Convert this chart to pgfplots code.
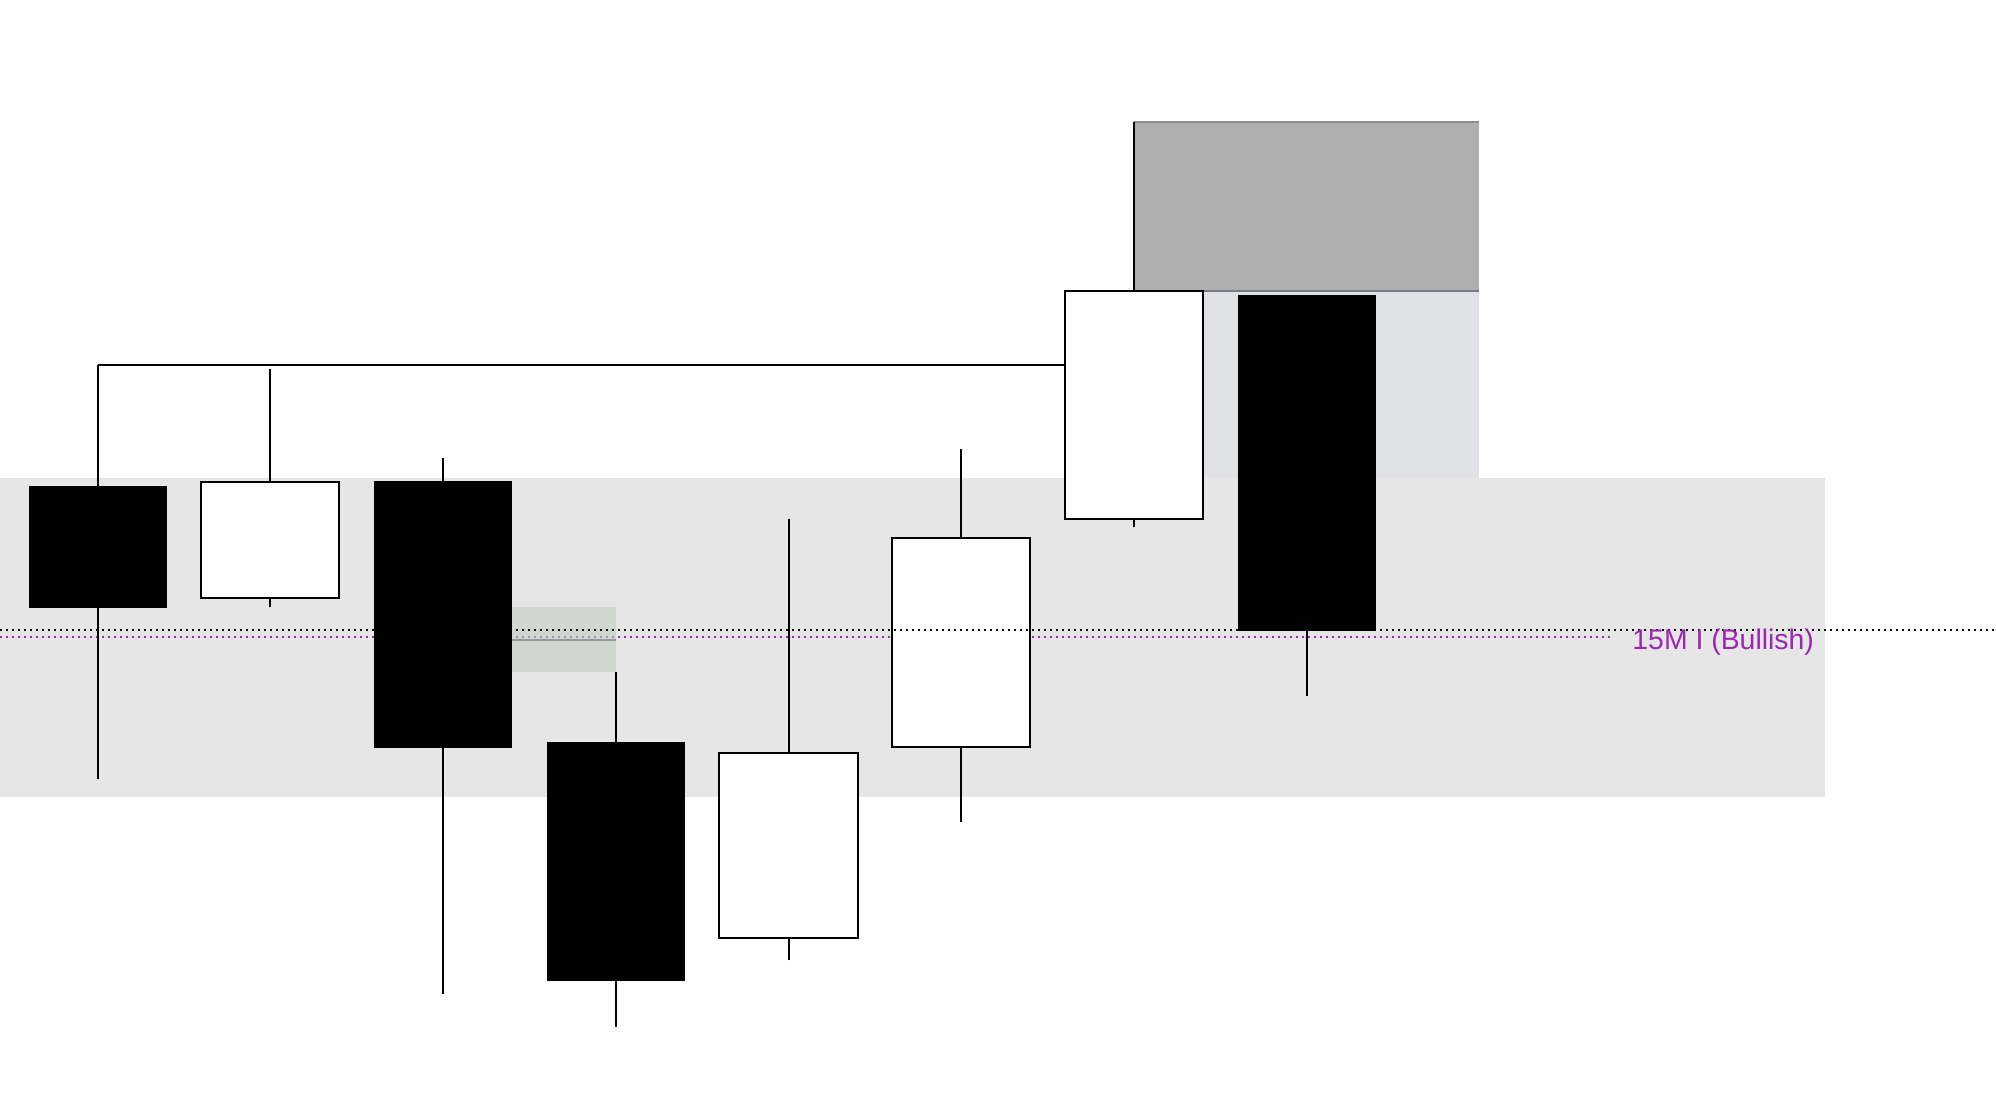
\documentclass[border=0pt]{standalone}
\usepackage{fontspec}
\setmainfont{Liberation Sans}
\usepackage{pgfplots}
\pgfplotsset{compat=1.18}
\definecolor{zone}{RGB}{230,230,230}
\definecolor{lightbox}{RGB}{225,226,229}
\definecolor{darkbox}{RGB}{175,175,175}
\definecolor{darkedge}{RGB}{140,140,140}
\definecolor{bluegray}{RGB}{120,123,134}
\definecolor{fvg}{RGB}{193,202,193}
\definecolor{fvgline}{RGB}{150,154,150}
\definecolor{mypurple}{RGB}{156,39,176}
\begin{document}
\begin{tikzpicture}
\begin{axis}[
  width=499pt, height=276.5pt, scale only axis,
  hide axis, clip=true,
  xmin=-0.5657, xmax=10.992, ymin=0, ymax=1106,
]
% big gray zone
\addplot[fill=zone, draw=none] coordinates {(-0.6,309.3) (10.0,309.3) (10.0,628) (-0.6,628)} -- cycle;
% light box and dark box
\addplot[fill=lightbox, draw=none] coordinates {(6.0,628) (8.0,628) (8.0,815.3) (6.0,815.3)} -- cycle;
\addplot[fill=darkbox, draw=none] coordinates {(6.0,815.3) (8.0,815.3) (8.0,984.3) (6.0,984.3)} -- cycle;
\addplot[darkedge, line width=0.4pt] coordinates {(6.0,984.3) (8.0,984.3)};
\addplot[bluegray, line width=0.45pt] coordinates {(6.0,815.3) (8.0,815.3)};
% previous high bracket
\addplot[black, line width=0.5pt] coordinates {(0,741) (5.6,741)};
% purple dotted level
\addplot[mypurple, line width=0.5pt, dash pattern=on 0.5pt off 1pt] coordinates {(-0.6,469) (8.775,469)};
% candles: wick (low-high), then body
% C0 bear O=620 C=498.3 H=741 L=327
\addplot[black, line width=0.5pt] coordinates {(0,327) (0,741)};
\addplot[fill=black, draw=none] coordinates {(-0.4,620) (0.4,620) (0.4,498.3) (-0.4,498.3)} -- cycle;
% C1 bull O=508.3 C=624.3 H=736.7 L=499.3
\addplot[black, line width=0.5pt] coordinates {(1,499.3) (1,736.7)};
\addplot[fill=white, draw=black, line width=0.5pt] coordinates {(0.6,508.3) (1.4,508.3) (1.4,624.3) (0.6,624.3)} -- cycle;
% C2 bear O=625 C=358.3 H=648 L=112.2
\addplot[black, line width=0.5pt] coordinates {(2,112.2) (2,648)};
\addplot[fill=black, draw=none] coordinates {(1.6,625) (2.4,625) (2.4,358.3) (1.6,358.3)} -- cycle;
% C3 bear O=364 C=125.2 H=434 L=79.3
\addplot[black, line width=0.5pt] coordinates {(3,79.3) (3,434)};
\addplot[fill=black, draw=none] coordinates {(2.6,364) (3.4,364) (3.4,125.2) (2.6,125.2)} -- cycle;
% C4 bull O=168.4 C=353 H=587.2 L=145.7
\addplot[black, line width=0.5pt] coordinates {(4,145.7) (4,587.2)};
\addplot[fill=white, draw=black, line width=0.5pt] coordinates {(3.6,168.4) (4.4,168.4) (4.4,353) (3.6,353)} -- cycle;
% C5 bull O=359.2 C=568.2 H=657 L=284.5
\addplot[black, line width=0.5pt] coordinates {(5,284.5) (5,657)};
\addplot[fill=white, draw=black, line width=0.5pt] coordinates {(4.6,359.2) (5.4,359.2) (5.4,568.2) (4.6,568.2)} -- cycle;
% C6 bull O=587.3 C=815.3 H=984.3 L=578.7
\addplot[black, line width=0.5pt] coordinates {(6,578.7) (6,984.3)};
\addplot[fill=white, draw=black, line width=0.5pt] coordinates {(5.6,587.3) (6.4,587.3) (6.4,815.3) (5.6,815.3)} -- cycle;
% C7 bear O=811 C=475.3 H=811 L=410.3
\addplot[black, line width=0.5pt] coordinates {(7,410.3) (7,811)};
\addplot[fill=black, draw=none] coordinates {(6.6,811) (7.4,811) (7.4,475.3) (6.6,475.3)} -- cycle;
% FVG box
\addplot[fill=fvg, fill opacity=0.6, draw=none] coordinates {(2.4,434) (3.0,434) (3.0,499) (2.4,499)} -- cycle;
\addplot[fvgline, line width=0.45pt] coordinates {(2.4,466) (3.0,466)};
% black dotted level
\addplot[black, line width=0.5pt, dash pattern=on 0.5pt off 1pt] coordinates {(-0.6,476) (11.1,476)};
\node[anchor=base west, inner sep=0pt, text=mypurple, font=\fontsize{7.1}{8}\selectfont] at (axis cs:8.882,457) {15M I (Bullish)};
\end{axis}
\pgfresetboundingbox
\useasboundingbox (current axis.south west) rectangle (current axis.north east);
\end{tikzpicture}
\end{document}
